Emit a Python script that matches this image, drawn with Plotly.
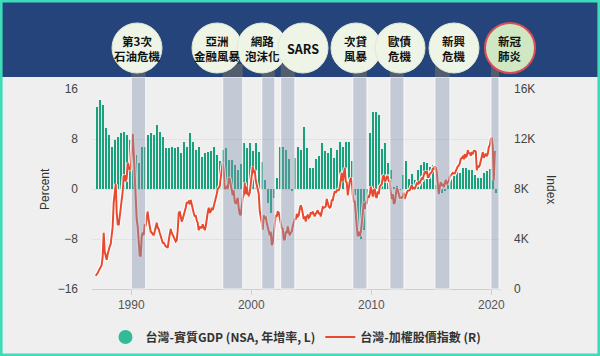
import pandas as pd
import plotly.graph_objects as go

# ---------------- data ----------------
gdp_start = "1987Q1"
gdp_yoy = [
    13.1, 14.2, 13.5, 9.8,   8.6, 6.8, 7.9, 8.4,   9.0, 9.2, 8.7, 7.9,
    7.0, 5.5, 4.2, 6.7,      6.8, 8.6, 9.0, 8.6,   10.3, 9.2, 8.4, 6.5,
    6.6, 6.8, 6.5, 6.7,      5.7, 7.5, 6.8, 9.0,   7.5, 6.3, 6.8, 5.1,
    5.7, 5.9, 6.1, 6.8,      5.4, 4.5, 6.2, 6.6,   4.7, 4.7, 3.8, 3.0,
    4.0, 7.3, 6.6, 7.3,      6.1, 7.3, 5.9, 4.4,   1.5, -2.3, -3.8, -1.5,
    1.8, 6.8, 6.7, 6.2,      4.8, -0.3, 5.0, 6.8,  6.3, 9.9, 6.5, 3.3,
    3.3, 4.8, 5.3, 7.4,      6.1, 5.8, 6.6, 5.0,   6.2, 7.5, 6.7, 7.5,
    7.5, 4.5, -1.0, -7.0,    -8.0, -6.5, -1.0, 9.0, 12.4, 12.3, 11.8, 6.4,
    7.4, 4.2, 3.1, 0.4,      0.5, -0.1, 2.2, 4.5,  1.6, 2.4, 1.4, 3.1,
    3.8, 4.4, 4.2, 3.6,      3.8, 0.7, -0.6, -0.6, -0.2, 0.8, 1.7, 2.1,
    2.8, 2.5, 3.3, 3.3,      3.1, 3.0, 2.2, 1.7,   1.7, 2.5, 2.9, 3.2,
    1.4, -0.6,
]

taiex_start = "1987-01"
taiex = [
    # 1987
    1060, 1150, 1280, 1450, 1580, 1720, 1900, 2600, 4500, 3000, 2600, 2340,
    # 1988
    2800, 3200, 3400, 3600, 4500, 5000, 6900, 7800, 8400, 6100, 5200, 5100,
    # 1989
    5700, 6600, 7200, 7800, 9000, 9100, 8600, 8900, 10100, 9800, 9500, 9620,
    # 1990
    11000, 12400, 11000, 9000, 7500, 5600, 5000, 3300, 2700, 2600, 4200, 4530,
    # 1991
    4300, 5200, 5000, 5700, 6200, 5500, 5100, 4600, 4500, 4400, 4300, 4600,
    # 1992
    5100, 5300, 4900, 4800, 4500, 4200, 3900, 3700, 3700, 3500, 3400, 3380,
    # 1993
    3300, 3900, 4400, 4800, 4500, 4300, 4100, 3900, 3800, 3900, 4700, 6070,
    # 1994
    6200, 5800, 5400, 5600, 6000, 6200, 6500, 6900, 6900, 7000, 6800, 7120,
    # 1995
    6700, 6500, 6100, 5800, 5900, 5500, 5300, 4700, 5000, 4900, 4900, 5170,
    # 1996
    4800, 4700, 5000, 5700, 6100, 6500, 6100, 6200, 6500, 6300, 6600, 6930,
    # 1997
    7100, 7600, 8000, 8100, 8200, 8900, 9600, 10100, 9400, 8000, 8100, 8190,
    # 1998
    8000, 8900, 8800, 8400, 7800, 7500, 7900, 7000, 6800, 7100, 7300, 6420,
    # 1999
    6000, 5900, 6800, 7300, 7500, 8500, 7600, 8200, 7600, 7500, 7700, 8450,
    # 2000
    9500, 9800, 9300, 9500, 8700, 8300, 8100, 7600, 6200, 5500, 5300, 4740,
    # 2001
    5900, 5600, 5800, 5300, 5000, 4800, 4300, 4600, 3500, 3700, 4400, 5550,
    # 2002
    5900, 5800, 6200, 6100, 5700, 5200, 4900, 4800, 4000, 3900, 4600, 4450,
    # 2003
    5000, 4600, 4300, 4500, 4600, 5000, 5300, 5600, 5600, 6000, 5800, 5890,
    # 2004
    6400, 6700, 6500, 6100, 5600, 5800, 5400, 5800, 5900, 5700, 5800, 6140,
    # 2005
    6000, 6200, 6000, 5800, 6000, 6200, 6300, 6000, 6100, 5800, 6200, 6550,
    # 2006
    6500, 6600, 6600, 7200, 6800, 6600, 6500, 6600, 7100, 7100, 7500, 7820,
    # 2007
    7700, 7900, 7900, 7900, 8100, 8900, 9300, 8600, 9400, 9700, 8600, 8510,
    # 2008
    7500, 8400, 8600, 8900, 8600, 7500, 7000, 7000, 5700, 5000, 4200, 4590,
    # 2009
    4250, 4560, 5200, 6000, 6900, 6400, 7000, 6800, 7500, 7300, 7600, 8190,
    # 2010
    7600, 7400, 7900, 8000, 7400, 7300, 7800, 7600, 8200, 8300, 8400, 8970,
    # 2011
    9100, 8600, 8700, 9000, 9000, 8650, 8650, 7700, 7200, 7600, 6800, 6900,
    # 2012
    7500, 8100, 7900, 7500, 7300, 7300, 7300, 7400, 7700, 7200, 7500, 7700,
    # 2013
    7850, 7900, 7900, 8100, 8300, 8050, 8100, 8000, 8200, 8450, 8400, 8610,
    # 2014
    8500, 8650, 8850, 8800, 9050, 9400, 9300, 9450, 8970, 8970, 9190, 9310,
    # 2015
    9360, 9620, 9590, 9820, 9700, 9320, 8670, 7600, 8180, 8550, 8320, 8340,
    # 2016
    8150, 8410, 8740, 8380, 8540, 8670, 8980, 9070, 9170, 9290, 9240, 9250,
    # 2017
    9450, 9750, 9810, 9870, 10040, 10400, 10500, 10590, 10380, 10790, 10560, 10640,
    # 2018
    11100, 10820, 10920, 10660, 10880, 10840, 11050, 11060, 11000, 9500, 9890, 9730,
    # 2019
    9930, 10390, 10640, 10950, 10500, 10730, 10820, 10620, 10830, 11360, 11490, 12000,
    # 2020
    12100, 11290, 8700, 10990, 10940,
]

event_labels = ["第3次<br>石油危機", "亞洲<br>金融風暴", "網路<br>泡沫化", "SARS",
                "次貸<br>風暴", "歐債<br>危機", "新興<br>危機", "新冠<br>肺炎"]
event_starts = ["1990-01-01", "1997-08-15", "2000-11-15", "2002-06-15",
                "2008-06-15", "2011-07-20", "2015-04-20", "2019-12-20"]
event_ends = ["1991-03-15", "1999-04-15", "2001-12-20", "2003-08-20",
              "2009-08-20", "2012-09-20", "2016-07-20", "2020-08-20"]
event_label_px = [137, 217, 262, 303, 356, 400, 454, 510]

left_ticks = [-16, -8, 0, 8, 16]
right_ticks = [0, 4000, 8000, 12000, 16000]
right_ticktext = ["0", "4K", "8K", "12K", "16K"]
year_ticks = ["1990-01-01", "2000-01-01", "2010-01-01", "2020-01-01"]
year_ticktext = ["1990", "2000", "2010", "2020"]

name_gdp = "台灣-實質GDP (NSA, 年增率, L)"
name_idx = "台灣-加權股價指數 (R)"

# ---------------- geometry ----------------
W, H = 600, 356
L, R, T, B = 92, 100, 89, 67
PW, PH = W - L - R, H - T - B


def px_x(p):
    return (p - L) / PW


def px_y(p):
    return (H - B - p) / PH


gdp_dates = pd.period_range(gdp_start, periods=len(gdp_yoy), freq="Q").to_timestamp() + pd.Timedelta(days=45)
idx_dates = pd.period_range(taiex_start, periods=len(taiex), freq="M").to_timestamp() + pd.Timedelta(days=14)

FONT = "Liberation Sans, Arial, Noto Sans CJK TC, sans-serif"
CJK = "Noto Sans CJK TC, sans-serif"

fig = go.Figure()
fig.add_trace(go.Bar(
    x=gdp_dates, y=gdp_yoy, name=name_gdp, showlegend=False,
    marker=dict(color="#18a27c", line=dict(width=0)),
    width=62 * 86400000,
))
# legend proxy for the GDP series (round dot)
fig.add_trace(go.Scatter(
    x=[None], y=[None], mode="markers", name=name_gdp,
    marker=dict(symbol="circle", size=14, color="#33bb98"),
))
fig.add_trace(go.Scatter(
    x=idx_dates, y=taiex, yaxis="y2", mode="lines", showlegend=False,
    line=dict(color="white", width=4), hoverinfo="skip",
))
fig.add_trace(go.Scatter(
    x=idx_dates, y=taiex, yaxis="y2", mode="lines", name=name_idx,
    line=dict(color="#e84a30", width=2),
))

shapes = []
# recession bands
for s, e in zip(event_starts, event_ends):
    shapes.append(dict(type="rect", xref="x", yref="paper", x0=s, x1=e,
                       y0=0, y1=px_y(77), layer="above",
                       fillcolor="rgba(134,151,176,0.42)",
                       line=dict(color="rgba(255,255,255,0.8)", width=1)))
# header band
shapes.append(dict(type="rect", xref="paper", yref="paper",
                   x0=px_x(2), x1=px_x(598), y0=px_y(77), y1=px_y(1.5),
                   fillcolor="#25447b", line=dict(width=0), layer="above"))
# stems under circles
for s, e in zip(event_starts, event_ends):
    shapes.append(dict(type="rect", xref="x", yref="paper", x0=s, x1=e,
                       y0=px_y(77), y1=px_y(64), layer="above",
                       fillcolor="#525d6e", line=dict(width=0)))
# circles
for i, cx in enumerate(event_label_px):
    last = i == len(event_label_px) - 1
    shapes.append(dict(type="circle", xref="paper", yref="paper",
                       x0=px_x(cx - 25), x1=px_x(cx + 25),
                       y0=px_y(73), y1=px_y(23), layer="above",
                       fillcolor="#cfe7c2" if last else "#eef5e6",
                       line=dict(color="#dc4b57" if last else "#dfe9d6",
                                 width=2 if last else 1)))
# outer teal frame
shapes.append(dict(type="rect", xref="paper", yref="paper",
                   x0=px_x(1.3), x1=px_x(598.7), y0=px_y(354.7), y1=px_y(1.3),
                   line=dict(color="#3fdcb9", width=2.6), layer="above"))

annotations = []
for cx, lab in zip(event_label_px, event_labels):
    annotations.append(dict(x=px_x(cx), y=px_y(48.5), xref="paper", yref="paper",
                            xanchor="center", yanchor="middle",
                            text=lab, showarrow=False,
                            font=dict(family=CJK, size=12.5 if lab == "SARS" else 11.5,
                                      color="#111", weight="bold"),
                            align="center"))
annotations.append(dict(x=px_x(45), y=px_y(189), xref="paper", yref="paper",
                        xanchor="center", yanchor="middle",
                        text="Percent", textangle=-90, showarrow=False,
                        font=dict(family=FONT, size=12, color="#333")))
annotations.append(dict(x=px_x(551), y=px_y(189), xref="paper", yref="paper",
                        xanchor="center", yanchor="middle",
                        text="Index", textangle=90, showarrow=False,
                        font=dict(family=FONT, size=12, color="#333")))

fig.update_layout(
    width=W, height=H,
    margin=dict(l=L, r=R, t=T, b=B, autoexpand=False),
    paper_bgcolor="#efefef", plot_bgcolor="#efefef",
    font=dict(family=FONT, size=12, color="#444"),
    bargap=0,
    shapes=shapes, annotations=annotations,
    xaxis=dict(type="date", range=["1986-09-24", "2020-09-20"],
               tickvals=year_ticks, ticktext=year_ticktext,
               showgrid=False, zeroline=False,
               showline=True, linecolor="#cfcfcf", linewidth=1,
               ticks="outside", ticklen=5, tickcolor="#cfcfcf",
               tickfont=dict(size=12, color="#555")),
    yaxis=dict(range=[-16, 16], tickvals=left_ticks, showgrid=True,
               gridcolor="#e2e2e2", gridwidth=1, zeroline=False,
               ticklabelstandoff=13, tickfont=dict(size=12, color="#444")),
    yaxis2=dict(range=[0, 16000], overlaying="y", side="right",
                tickvals=right_ticks, ticktext=right_ticktext,
                showgrid=False, zeroline=False, ticklabelstandoff=13,
                tickfont=dict(size=12, color="#444")),
    legend=dict(orientation="h", x=0.5, xanchor="center",
                y=px_y(337), yanchor="middle",
                font=dict(family=CJK, size=12, color="#333", weight="bold"),
                bgcolor="rgba(0,0,0,0)", itemwidth=30, traceorder="normal"),
    showlegend=True,
)

fig.write_html("out.html", config={"displayModeBar": False},
               post_script="document.body.style.margin='0';document.body.style.overflow='hidden';")
